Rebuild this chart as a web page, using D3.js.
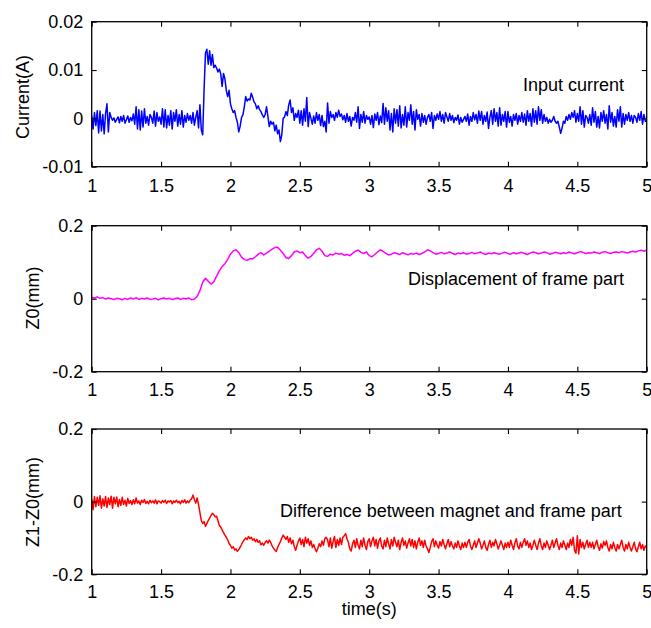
<!DOCTYPE html>
<html>
<head>
<meta charset="utf-8">
<script src="https://d3js.org/d3.v7.min.js"></script>
<style>
body { margin: 0; background: #fff; }
text { font-family: "Liberation Sans", Arial, sans-serif; }
</style>
</head>
<body>
<svg class="chart"></svg>
<script>
var tStart = 1;
var currentStep = 0.01;
var z0Step = 0.02;
var diffStep = 0.01;

// input current in mA (plotted in A)
var currentMA = [
  0.5,-2.2,1.2,-1.5,1.6,-3.0,1.5,-2.6,0.8,-3.2,
  1.0,3.0,-2.8,1.2,0.2,-0.4,0.1,-0.8,-0.2,0.3,
  -0.9,0.4,-0.6,0.6,-1.0,-0.3,0.5,-0.8,0.2,-0.5,
  0.9,-1.2,2.4,-2.2,1.8,-2.4,1.5,-1.8,2.0,-1.0,
  0.4,-1.4,0.8,0.2,-1.0,1.5,-1.6,1.2,-0.6,0.3,
  -1.2,2.0,-1.8,1.8,-2.0,0.6,-1.4,1.6,-2.2,1.2,
  -0.6,1.8,-1.6,0.8,-1.2,1.6,-1.8,0.6,-0.8,1.0,
  -0.4,0.6,-1.0,1.2,-1.4,0.2,1.6,-2.0,2.8,-2.4,
  -3.4,6.0,13.5,14.3,11.2,14.0,11.0,13.2,10.5,11.0,
  10.4,9.6,10.2,9.2,6.6,9.3,8.2,5.8,4.5,5.8,
  3.0,2.0,1.2,1.6,0.2,-0.8,-2.8,-1.6,0.2,0.7,
  2.4,4.5,3.6,4.0,3.8,5.2,4.4,3.4,3.0,2.0,
  2.6,1.8,1.4,0.7,0.2,0.8,2.4,0.4,-1.7,-0.6,
  -1.2,-0.8,-2.6,-1.4,-3.2,-2.4,-4.8,-3.4,0.0,0.3,
  1.4,0.6,2.8,3.8,1.2,2.2,-0.4,1.0,0.2,1.7,
  -1.0,1.6,-1.4,2.0,-0.6,4.3,-1.7,1.2,0.0,-1.2,
  0.5,-1.0,1.2,-0.4,0.8,-1.5,0.6,-1.7,-0.6,-2.8,
  3.2,-1.0,1.4,0.2,0.8,-0.4,1.2,0.2,1.7,0.4,
  0.9,-0.3,0.6,-0.8,1.0,-0.6,0.4,-1.6,0.2,-0.4,
  1.2,-0.8,2.4,-2.1,0.8,-0.8,1.4,-1.0,0.6,-0.2,
  0.3,-1.2,0.6,-1.9,0.9,-0.4,1.2,-1.3,0.5,-0.9,
  3.1,-1.2,2.2,-0.6,1.6,-2.4,1.0,-2.8,2.0,-1.0,
  1.8,-1.6,2.6,-2.0,0.8,-1.4,2.4,-1.8,1.2,-0.4,
  2.8,-1.2,1.4,-2.4,1.8,-0.2,0.8,-1.6,1.0,-0.8,
  0.6,-1.2,0.2,0.8,-0.6,1.2,-2.1,0.6,-0.4,0.9,
  -0.2,1.4,-0.6,0.8,-1.0,1.2,0.3,-0.6,1.0,-0.4,
  0.6,-0.9,0.2,-0.4,0.7,-1.2,0.2,-0.8,-0.2,0.4,
  -0.6,0.9,-1.4,0.4,-0.6,1.2,-0.3,0.8,-1.0,1.5,
  -0.4,1.4,-1.2,0.6,-0.6,1.3,-2.1,0.2,1.6,-1.2,
  2.0,-0.6,1.2,-1.6,2.2,-1.4,0.8,-0.6,1.4,-1.8,
  1.4,-0.8,0.4,-1.6,0.8,-0.4,1.0,-1.2,0.6,-0.6,
  1.2,-0.8,0.9,-1.4,1.6,-0.6,1.0,-1.6,2.0,-0.8,
  1.6,-1.2,2.4,-0.4,1.8,-1.0,0.8,-0.6,0.2,-1.0,
  -0.2,-0.8,-0.4,0.4,-0.6,-1.0,-0.6,-1.8,-3.1,-2.0,
  -0.6,-1.0,0.4,-0.4,0.8,-0.2,1.2,0.2,1.6,-0.8,
  1.0,-0.6,2.4,-1.2,1.6,-1.8,0.6,0.2,-1.0,0.8,
  -1.4,2.2,-0.8,1.4,-1.8,0.4,-2.0,1.2,-0.6,1.6,
  -1.0,0.8,-2.2,2.6,-0.8,1.2,-1.6,0.4,-1.8,1.8,
  -0.6,2.4,-1.8,1.0,-1.2,0.8,-0.4,1.2,-0.6,0.6,
  -1.0,0.6,0.2,-0.8,1.0,-0.4,1.4,-1.2,0.8,-0.6,
  -0.4
];

// displacement of frame part Z0 (mm)
var z0 = [
  0.004,0.002,0.005,0.001,0.003,-0.001,0.002,0.000,-0.002,0.001,
  0.000,-0.003,0.001,-0.002,0.002,-0.001,0.003,-0.002,0.001,-0.001,
  0.002,-0.002,-0.001,0.001,-0.003,0.000,0.002,-0.001,0.001,-0.002,
  0.000,0.002,-0.002,0.001,-0.001,0.002,-0.003,-0.001,0.006,0.022,
  0.045,0.056,0.048,0.040,0.046,0.062,0.076,0.088,0.096,0.108,
  0.122,0.131,0.134,0.126,0.114,0.107,0.105,0.110,0.109,0.115,
  0.122,0.126,0.120,0.125,0.130,0.136,0.140,0.141,0.133,0.124,
  0.113,0.110,0.118,0.128,0.131,0.126,0.128,0.118,0.111,0.116,
  0.124,0.134,0.138,0.130,0.118,0.116,0.122,0.120,0.125,0.122,
  0.124,0.119,0.121,0.118,0.124,0.130,0.133,0.127,0.124,0.128,
  0.118,0.115,0.121,0.128,0.134,0.130,0.124,0.120,0.122,0.126,
  0.124,0.121,0.126,0.123,0.120,0.124,0.122,0.125,0.121,0.124,
  0.128,0.134,0.131,0.126,0.122,0.124,0.127,0.123,0.125,0.128,
  0.124,0.121,0.125,0.123,0.126,0.122,0.124,0.127,0.123,0.125,
  0.128,0.124,0.121,0.125,0.123,0.126,0.124,0.122,0.125,0.127,
  0.124,0.122,0.126,0.123,0.125,0.127,0.124,0.121,0.125,0.128,
  0.126,0.123,0.125,0.128,0.126,0.122,0.124,0.127,0.125,0.123,
  0.126,0.124,0.128,0.125,0.123,0.126,0.129,0.127,0.124,0.126,
  0.125,0.128,0.126,0.124,0.127,0.129,0.126,0.124,0.127,0.128,
  0.126,0.129,0.127,0.125,0.128,0.130,0.128,0.131,0.133,0.130,
  0.134
];

// difference between magnet and frame part Z1-Z0 (mm)
var diff = [
  0.008,-0.022,0.014,-0.014,0.012,-0.010,0.016,-0.018,0.008,-0.012,
  0.014,-0.016,0.010,-0.008,0.015,-0.018,0.012,-0.006,0.013,-0.014,
  0.006,-0.010,0.012,-0.008,0.004,-0.012,0.009,-0.005,0.003,-0.008,
  0.005,-0.006,0.010,-0.004,0.002,-0.008,0.004,-0.002,0.006,-0.005,
  0.001,-0.006,0.004,-0.003,0.002,-0.004,0.005,-0.006,0.002,0.000,
  -0.004,0.003,-0.002,0.004,-0.005,0.002,-0.001,0.003,-0.006,0.002,
  -0.002,0.004,-0.003,0.001,-0.006,0.003,-0.002,0.005,-0.004,0.002,
  -0.003,0.004,0.008,0.018,0.006,-0.004,0.010,-0.008,-0.030,-0.052,
  -0.060,-0.055,-0.068,-0.060,-0.052,-0.045,-0.038,-0.032,-0.036,-0.042,
  -0.040,-0.052,-0.066,-0.070,-0.078,-0.085,-0.092,-0.098,-0.105,-0.115,
  -0.120,-0.128,-0.124,-0.133,-0.130,-0.137,-0.132,-0.125,-0.118,-0.110,
  -0.105,-0.100,-0.104,-0.096,-0.102,-0.098,-0.106,-0.102,-0.110,-0.104,
  -0.112,-0.108,-0.119,-0.114,-0.120,-0.112,-0.108,-0.114,-0.106,-0.112,
  -0.122,-0.128,-0.133,-0.137,-0.126,-0.118,-0.110,-0.100,-0.092,-0.098,
  -0.104,-0.096,-0.112,-0.100,-0.116,-0.106,-0.124,-0.134,-0.120,-0.108,
  -0.100,-0.118,-0.104,-0.124,-0.098,-0.114,-0.102,-0.120,-0.108,-0.126,
  -0.118,-0.130,-0.138,-0.128,-0.116,-0.124,-0.108,-0.120,-0.102,-0.098,
  -0.106,-0.124,-0.100,-0.128,-0.110,-0.096,-0.126,-0.104,-0.120,-0.100,
  -0.118,-0.098,-0.094,-0.088,-0.102,-0.112,-0.130,-0.136,-0.116,-0.106,
  -0.126,-0.102,-0.120,-0.130,-0.106,-0.124,-0.100,-0.120,-0.132,-0.110,
  -0.102,-0.124,-0.108,-0.098,-0.122,-0.104,-0.128,-0.108,-0.100,-0.122,
  -0.130,-0.106,-0.124,-0.100,-0.116,-0.130,-0.104,-0.122,-0.098,-0.112,
  -0.124,-0.106,-0.132,-0.112,-0.100,-0.120,-0.108,-0.128,-0.114,-0.102,
  -0.122,-0.104,-0.126,-0.108,-0.130,-0.112,-0.100,-0.120,-0.108,-0.126,
  -0.106,-0.122,-0.130,-0.140,-0.126,-0.110,-0.102,-0.124,-0.108,-0.120,
  -0.128,-0.110,-0.122,-0.104,-0.118,-0.130,-0.116,-0.104,-0.124,-0.110,
  -0.122,-0.130,-0.114,-0.126,-0.108,-0.122,-0.132,-0.114,-0.126,-0.112,
  -0.126,-0.112,-0.104,-0.122,-0.132,-0.120,-0.108,-0.126,-0.114,-0.102,
  -0.114,-0.130,-0.120,-0.108,-0.126,-0.134,-0.118,-0.106,-0.126,-0.112,
  -0.122,-0.104,-0.116,-0.130,-0.120,-0.108,-0.120,-0.132,-0.114,-0.126,
  -0.112,-0.126,-0.106,-0.120,-0.132,-0.114,-0.102,-0.122,-0.130,-0.112,
  -0.126,-0.112,-0.102,-0.120,-0.108,-0.126,-0.114,-0.132,-0.120,-0.106,
  -0.120,-0.132,-0.114,-0.102,-0.122,-0.132,-0.114,-0.126,-0.108,-0.120,
  -0.132,-0.120,-0.106,-0.126,-0.114,-0.102,-0.120,-0.132,-0.114,-0.126,
  -0.108,-0.120,-0.132,-0.114,-0.126,-0.104,-0.120,-0.098,-0.134,-0.142,
  -0.094,-0.144,-0.104,-0.126,-0.112,-0.130,-0.118,-0.106,-0.126,-0.112,
  -0.126,-0.112,-0.130,-0.118,-0.106,-0.124,-0.134,-0.116,-0.128,-0.110,
  -0.120,-0.108,-0.126,-0.136,-0.118,-0.130,-0.112,-0.126,-0.136,-0.118,
  -0.130,-0.118,-0.106,-0.126,-0.136,-0.118,-0.130,-0.112,-0.126,-0.136,
  -0.124,-0.112,-0.130,-0.138,-0.124,-0.112,-0.130,-0.118,-0.134,-0.122,
  -0.126
];

var timeTicks = [1, 1.5, 2, 2.5, 3, 3.5, 4, 4.5, 5];
var currentTicks = [-0.01, 0, 0.01, 0.02];
var mmTicks = [-0.2, 0, 0.2];

var width = 651;
var height = 628;
var axLeft = 91.7;
var axRight = 646.7;
var fontSize = 18;

var panels = [
  {top: 21.7, bottom: 166.7, yDomain: [-0.01, 0.02], yTicks: currentTicks,
   values: currentMA.map(function(d){ return d / 1000; }), step: currentStep,
   color: "#0000ff", label: "Current(A)", labelX: 29, labelY: 97, pad: 12.5,
   note: "Input current", noteX: 523, noteY: 91},
  {top: 225.7, bottom: 371.7, yDomain: [-0.2, 0.2], yTicks: mmTicks,
   values: z0, step: z0Step,
   color: "#ff00ff", label: "Z0(mm)", labelX: 39, labelY: 298, pad: 12,
   note: "Displacement of frame part", noteX: 408, noteY: 285},
  {top: 429, bottom: 574.3, yDomain: [-0.2, 0.2], yTicks: mmTicks,
   values: diff, step: diffStep,
   color: "#ff0000", label: "Z1-Z0(mm)", labelX: 39, labelY: 502, pad: 11,
   note: "Difference between magnet and frame part", noteX: 280, noteY: 516.5}
];

var svg = d3.select(".chart")
  .attr("width", width)
  .attr("height", height);

svg.append("rect")
  .attr("width", width)
  .attr("height", height)
  .attr("fill", "#fff");

var x = d3.scaleLinear().domain([1, 5]).range([axLeft, axRight]);

panels.forEach(function(p, k)
{
  var y = d3.scaleLinear().domain(p.yDomain).range([p.bottom, p.top]);
  var g = svg.append("g");

  g.append("clipPath").attr("id", "clip" + k)
    .append("rect")
    .attr("x", axLeft).attr("y", p.top)
    .attr("width", axRight - axLeft).attr("height", p.bottom - p.top);

  var line = d3.line()
    .x(function(d, i){ return x(tStart + i * p.step); })
    .y(function(d){ return y(d); });

  g.append("path")
    .datum(p.values)
    .attr("clip-path", "url(#clip" + k + ")")
    .attr("fill", "none")
    .attr("stroke", p.color)
    .attr("stroke-width", 1.5)
    .attr("stroke-linejoin", "round")
    .attr("d", line);

  // box
  g.append("rect")
    .attr("x", axLeft).attr("y", p.top)
    .attr("width", axRight - axLeft).attr("height", p.bottom - p.top)
    .attr("fill", "none")
    .attr("stroke", "#000")
    .attr("stroke-width", 1.3);

  var bottomAxis = g.append("g")
    .attr("transform", "translate(0," + p.bottom + ")")
    .call(d3.axisBottom(x).tickValues(timeTicks).tickSize(-5).tickPadding(p.pad)
      .tickFormat(function(d){ return String(d); }));
  var topAxis = g.append("g")
    .attr("transform", "translate(0," + p.top + ")")
    .call(d3.axisTop(x).tickValues(timeTicks).tickSize(-5).tickFormat(""));
  var leftAxis = g.append("g")
    .attr("transform", "translate(" + axLeft + ",0)")
    .call(d3.axisLeft(y).tickValues(p.yTicks).tickSize(-5).tickPadding(8.4)
      .tickFormat(function(d){ return String(d); }));
  var rightAxis = g.append("g")
    .attr("transform", "translate(" + axRight + ",0)")
    .call(d3.axisRight(y).tickValues(p.yTicks).tickSize(-5).tickFormat(""));

  [bottomAxis, topAxis, leftAxis, rightAxis].forEach(function(a)
  {
    a.select(".domain").remove();
    a.attr("font-family", null).attr("font-size", fontSize);
    a.selectAll("line").attr("stroke", "#000").attr("stroke-width", 1.1);
    a.selectAll("text").attr("fill", "#000");
  });

  g.append("text")
    .text(p.label)
    .attr("transform", "translate(" + p.labelX + "," + p.labelY + ") rotate(-90)")
    .attr("text-anchor", "middle")
    .attr("font-size", fontSize)
    .attr("fill", "#000");

  g.append("text")
    .text(p.note)
    .attr("x", p.noteX)
    .attr("y", p.noteY)
    .attr("font-size", fontSize)
    .attr("fill", "#000");
});

svg.append("text")
  .text("time(s)")
  .attr("x", (axLeft + axRight) / 2)
  .attr("y", 615)
  .attr("text-anchor", "middle")
  .attr("font-size", fontSize)
  .attr("fill", "#000");
</script>
</body>
</html>
